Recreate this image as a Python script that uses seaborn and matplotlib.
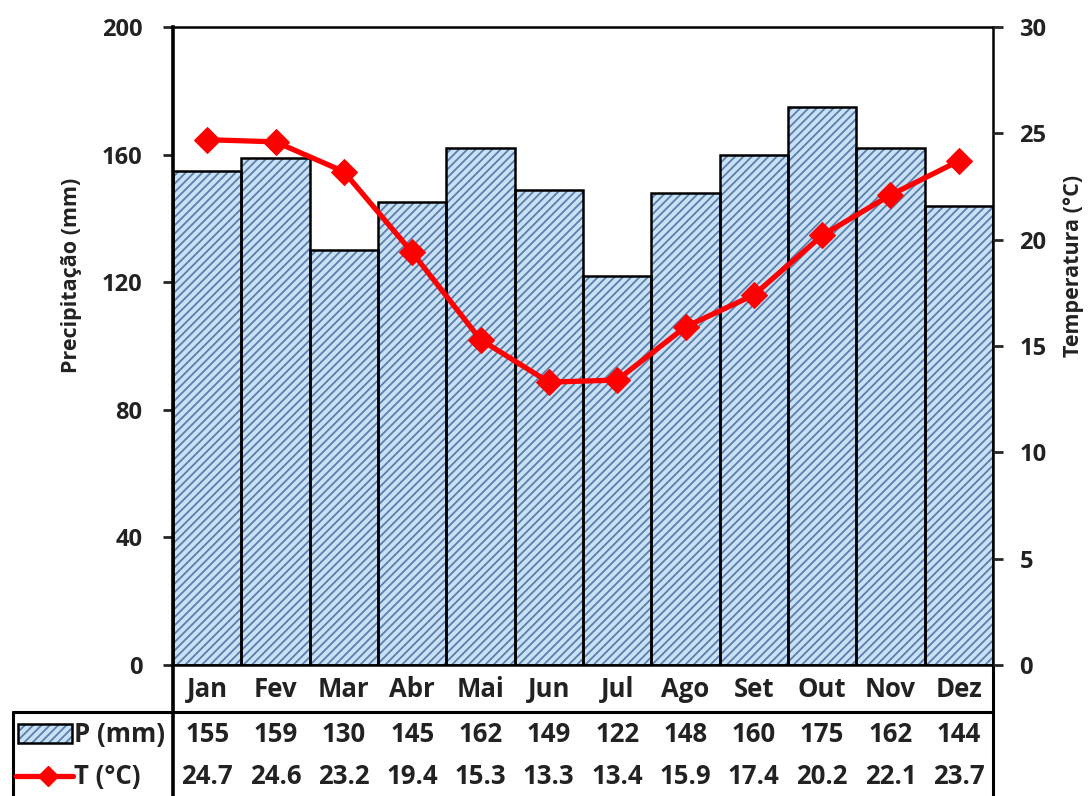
import numpy as np
import pandas as pd
import matplotlib
matplotlib.use("Agg")
import matplotlib.pyplot as plt
import seaborn as sns
from matplotlib.patches import Rectangle
from matplotlib.lines import Line2D

months = ["Jan", "Fev", "Mar", "Abr", "Mai", "Jun", "Jul", "Ago", "Set", "Out", "Nov", "Dez"]
precip = [155, 159, 130, 145, 162, 149, 122, 148, 160, 175, 162, 144]
temp = [24.7, 24.6, 23.2, 19.4, 15.3, 13.3, 13.4, 15.9, 17.4, 20.2, 22.1, 23.7]
p_ticks = [0, 40, 80, 120, 160, 200]
t_ticks = [0, 5, 10, 15, 20, 25, 30]

sns.set_style("white")
plt.rcParams["font.family"] = ["Open Sans", "DejaVu Sans"]
plt.rcParams["font.weight"] = "bold"
plt.rcParams["hatch.linewidth"] = 1.3

FACE = "#c9e1f4"
HATCH = "#5a7eae"
TXT = "#222222"
FS_TICK = 17
FS_TAB = 18.5
FS_LAB = 15.5

fig = plt.figure(figsize=(10.92, 7.96), dpi=100)
ax = fig.add_axes([173/1092, 1-665/796, 820/1092, 638/796])

df = pd.DataFrame({"month": months, "P": precip, "T": temp, "pos": np.arange(12)})

sns.barplot(data=df, x="month", y="P", ax=ax, color=FACE, saturation=1, width=1.0,
            edgecolor=HATCH, linewidth=0, hatch="////", zorder=2)
sns.barplot(data=df, x="month", y="P", ax=ax, color="black", saturation=1, width=1.0,
            fill=False, linewidth=1.8, zorder=3)

ax.set_ylim(0, 200)
ax.set_yticks(p_ticks)
ax.set_yticklabels([str(v) for v in p_ticks], fontweight="bold", fontsize=FS_TICK, color=TXT)
ax.set_xlim(-0.5, 11.5)
ax.set_xticks(range(12))
ax.set_xticklabels([])
ax.tick_params(axis="x", length=0)
ax.tick_params(axis="y", direction="out", length=7, width=2, pad=15, left=True)
ax.set_xlabel("")
ax.set_ylabel("Precipitação (mm)", fontsize=FS_LAB, fontweight="bold", color=TXT)
ax.yaxis.set_label_coords(-0.111, 0.611)
for s in ["top", "right", "bottom"]:
    ax.spines[s].set_linewidth(1.8)
    ax.spines[s].set_color("black")
ax.spines["left"].set_linewidth(2.6)
ax.spines["left"].set_color("black")

ax2 = ax.twinx()
sns.lineplot(data=df, x="pos", y="T", ax=ax2, color="#ff0000", linewidth=3.8,
             marker="D", markersize=13, markeredgecolor="#ff0000", zorder=5)
ax2.set_ylim(0, 30)
ax2.set_yticks(t_ticks)
ax2.set_yticklabels([str(v) for v in t_ticks], fontweight="bold", fontsize=FS_TICK, color=TXT)
ax2.set_xlim(-0.5, 11.5)
ax2.tick_params(axis="y", direction="out", length=7, width=2, pad=12, right=True)
ax2.set_ylabel("Temperatura (°C)", fontsize=FS_LAB, fontweight="bold", color=TXT)
ax2.yaxis.set_label_coords(1.085, 0.625)
ax2.set_xlabel("")
for s in ax2.spines.values():
    s.set_visible(False)

# Data table below the axes
tr = ax.transAxes
blend = matplotlib.transforms.blended_transform_factory(ax.transData, ax.transAxes)
y_month, y_p, y_t = -0.039, -0.1097, -0.174
for i, m in enumerate(months):
    ax.text(i, y_month, m, transform=blend, ha="center", va="center", fontsize=FS_TAB, fontweight="bold", color=TXT)
    ax.text(i, y_p, f"{precip[i]}", transform=blend, ha="center", va="center", fontsize=FS_TAB, fontweight="bold", color=TXT)
    ax.text(i, y_t, f"{temp[i]:.1f}", transform=blend, ha="center", va="center", fontsize=FS_TAB, fontweight="bold", color=TXT)

lw = 2.2
ax.plot([-0.195, 1.0], [-0.0737, -0.0737], transform=tr, color="black", lw=lw, clip_on=False)
ax.plot([-0.195, -0.195], [-0.0737, -0.21], transform=tr, color="black", lw=lw, clip_on=False)
ax.plot([0, 0], [0, -0.21], transform=tr, color="black", lw=2.6, clip_on=False)
ax.plot([1, 1], [0, -0.21], transform=tr, color="black", lw=lw, clip_on=False)

# legend keys in table
ax.add_patch(Rectangle((-0.189, -0.122), 0.0659, 0.030, transform=tr, facecolor=FACE,
                       edgecolor=HATCH, hatch="////", lw=0, clip_on=False))
ax.add_patch(Rectangle((-0.189, -0.122), 0.0659, 0.030, transform=tr, fill=False,
                       edgecolor="black", lw=1.8, clip_on=False))
ax.text(-0.121, y_p, "P (mm)", transform=tr, ha="left", va="center", fontsize=FS_TAB, fontweight="bold", color=TXT)
ax.add_line(Line2D([-0.192, -0.122], [y_t, y_t], transform=tr, color="#ff0000", lw=3.8,
                   clip_on=False))
ax.add_line(Line2D([-0.153], [y_t], transform=tr, color="#ff0000", marker="D", markersize=10,
                   clip_on=False))
ax.text(-0.121, y_t, "T (°C)", transform=tr, ha="left", va="center", fontsize=FS_TAB, fontweight="bold", color=TXT)

fig.savefig("out.png", dpi=100)
